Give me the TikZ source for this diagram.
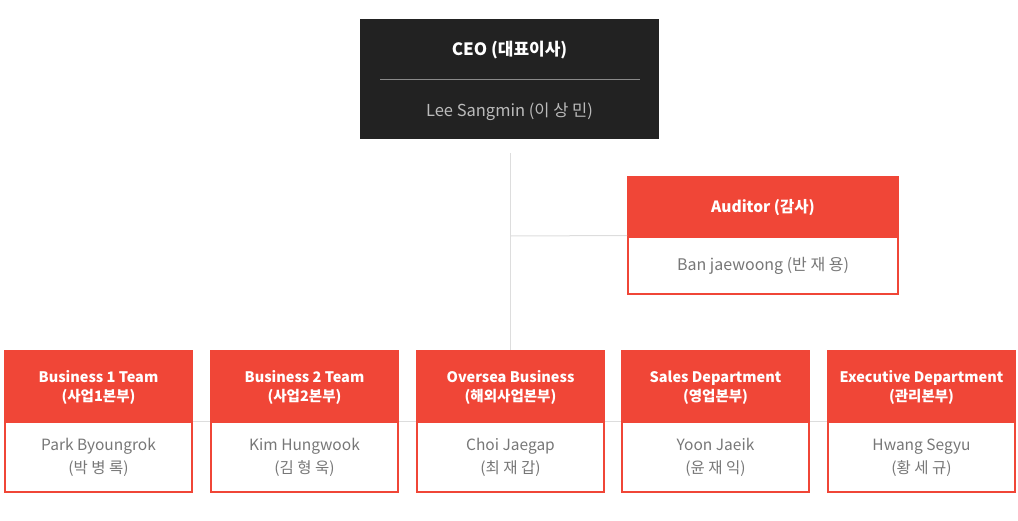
\documentclass[tikz,border=0pt]{standalone}
\usepackage{fontspec}
\setmainfont{Noto Sans CJK KR}
\definecolor{redc}{HTML}{F04637}
\definecolor{darkc}{HTML}{222222}
\definecolor{linec}{HTML}{DDDDDD}
\definecolor{txtc}{HTML}{777777}
\definecolor{ceosub}{HTML}{BBBBBB}
\definecolor{ceoline}{HTML}{8A8A8A}
\tikzset{
  hdr/.style={fill=redc, draw=none, text=white, font=\bfseries\fontsize{14.5}{19}\selectfont, align=center, inner sep=0pt},
  hdrtext/.style={text=white, font=\bfseries\fontsize{14.5}{19}\selectfont, align=center, inner sep=0pt, yshift=-2pt},
  bodybox/.style={draw=redc, line width=2pt, fill=white, inner sep=0pt},
  bodytext/.style={text=txtc, font=\fontsize{15.5}{23}\selectfont, align=center, inner sep=0pt, yshift=-1pt},
  conn/.style={draw=linec, line width=1pt},
}
\begin{document}
\begin{tikzpicture}[x=1pt,y=-1pt]
\useasboundingbox (0,0) rectangle (1018,520);
% connectors behind
\coordinate (top) at (510,153);
\coordinate (junc) at (510,236);
\coordinate (rowL) at (4,421);
\coordinate (rowR) at (1016,421);
\draw[conn] (rowL) -- (rowR);
% CEO
\node[fill=darkc, minimum width=299pt, minimum height=120pt, inner sep=0pt] (ceo) at (509.5,79) {};
\node[text=white, font=\bfseries\fontsize{17}{20}\selectfont, yshift=-2pt] (ceot) at (509.5,48) {CEO (대표이사)};
\node[text=ceosub, font=\fontsize{16.5}{20}\selectfont, yshift=-2pt] (ceon) at (509.5,110) {Lee Sangmin (이 상 민)};
\coordinate (cl) at (380,79);
\coordinate (cr) at (640,79);
\draw[ceoline, line width=0.8pt] (cl) -- (cr);
% Auditor
\node[hdr, minimum width=272pt, minimum height=60pt] (audh) at (763,206) {};
\node[hdrtext, font=\bfseries\fontsize{15.5}{19}\selectfont] (audht) at (763,206) {Auditor (감사)};
\node[bodybox, minimum width=270pt, minimum height=57pt] (audb) at (763,265) {};
\node[bodytext, font=\fontsize{16}{23}\selectfont] (audbt) at (763,265) {Ban jaewoong (반 재 용)};
\draw[conn] (junc) -- (audb.north west);
% bottom boxes
\foreach \n/\x/\t/\p in {
  b1/98.5/{Business 1 Team\\(사업1본부)}/{Park Byoungrok\\(박 병 록)},
  b2/304.5/{Business 2 Team\\(사업2본부)}/{Kim Hungwook\\(김 형 욱)},
  b3/510.5/{Oversea Business\\(해외사업본부)}/{Choi Jaegap\\(최 재 갑)},
  b4/715.5/{Sales Department\\(영업본부)}/{Yoon Jaeik\\(윤 재 익)},
  b5/921.5/{Executive Department\\(관리본부)}/{Hwang Segyu\\(황 세 규)}}{
  \node[hdr, minimum width=189pt, minimum height=71pt] (\n h) at (\x,385.5) {};
  \node[hdrtext] (\n ht) at (\x,385.5) {\t};
  \node[bodybox, minimum width=187pt, minimum height=70pt] (\n b) at (\x,456.5) {};
  \node[bodytext] (\n bt) at (\x,456.5) {\p};
}
\draw[conn] (top) -- (b3h.north -| top);
\end{tikzpicture}
\end{document}
